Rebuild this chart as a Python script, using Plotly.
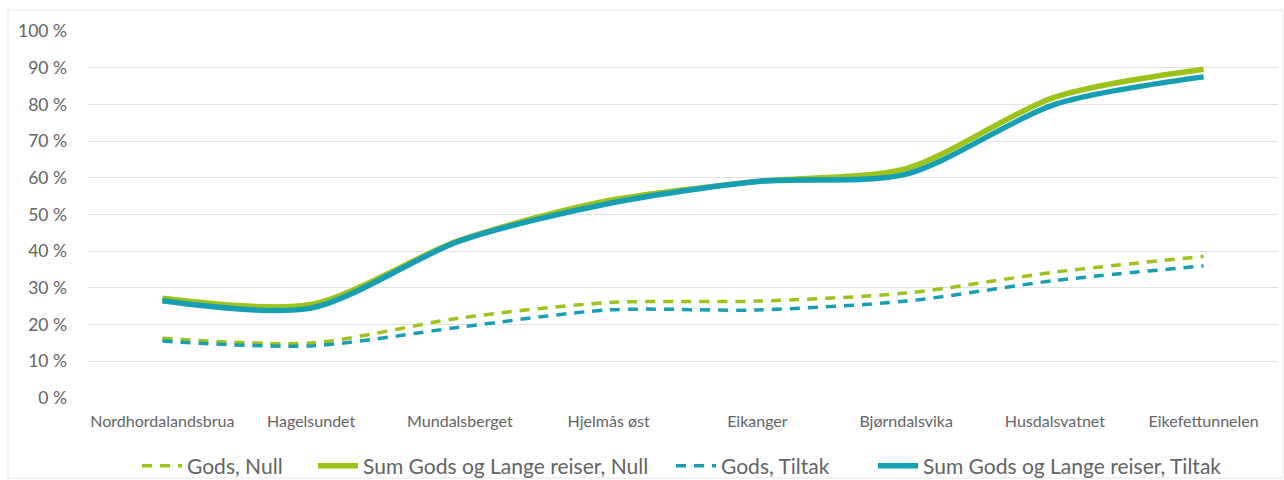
import plotly.graph_objects as go

categories = ["Nordhordalandsbrua", "Hagelsundet", "Mundalsberget", "Hjelmås øst",
              "Eikanger", "Bjørndalsvika", "Husdalsvatnet", "Eikefettunnelen"]
gods_null = [16.3, 15.0, 21.8, 26.0, 26.4, 28.6, 34.3, 38.6]
sum_null = [27.2, 25.5, 43.0, 53.8, 59.0, 62.5, 82.0, 89.6]
gods_tiltak = [15.5, 14.2, 19.3, 24.0, 24.0, 26.4, 32.0, 36.0]
sum_tiltak = [26.5, 24.5, 42.8, 53.0, 59.0, 61.0, 80.0, 87.5]
y_ticks = list(range(0, 101, 10))

GREEN = "#9cc31a"
BLUE = "#169fb2"
FONT = "Lato"
TXT = "#636363"

L, R, T, B = 88, 6, 31, 82
PW = 1284 - L - R

def px_to_paper(px):
    return (px - L) / PW

fig = go.Figure()
fig.add_trace(go.Scatter(x=categories, y=gods_null, name="Gods, Null", mode="lines", legend="legend",
                         line=dict(color=GREEN, width=3.5, dash="10px,8px", shape="spline", smoothing=0.8)))
fig.add_trace(go.Scatter(x=categories, y=sum_null, name="Sum Gods og Lange reiser, Null", mode="lines", legend="legend2",
                         line=dict(color=GREEN, width=5.5, shape="spline", smoothing=0.8)))
fig.add_trace(go.Scatter(x=categories, y=gods_tiltak, name="Gods, Tiltak", mode="lines", legend="legend3",
                         line=dict(color=BLUE, width=3.5, dash="10px,8px", shape="spline", smoothing=0.8)))
fig.add_trace(go.Scatter(x=categories, y=sum_tiltak, name="Sum Gods og Lange reiser, Tiltak", mode="lines", legend="legend4",
                         line=dict(color=BLUE, width=5.5, shape="spline", smoothing=0.8)))

leg_common = dict(orientation="h", xanchor="left", yref="container", y=1 - 466 / 480, yanchor="middle",
                  font=dict(family=FONT, size=21, color=TXT), itemwidth=40,
                  bgcolor="rgba(0,0,0,0)")

fig.update_layout(
    width=1284, height=480,
    margin=dict(l=L, r=R, t=T, b=B, autoexpand=False),
    paper_bgcolor="white", plot_bgcolor="white",
    font=dict(family=FONT, color=TXT),
    showlegend=True,
    legend=dict(x=px_to_paper(137), **leg_common),
    legend2=dict(x=px_to_paper(313), **leg_common),
    legend3=dict(x=px_to_paper(671), **leg_common),
    legend4=dict(x=px_to_paper(873), **leg_common),
    xaxis=dict(type="category", range=[-0.5, 7.5], showgrid=False, showline=False,
               ticks="", tickfont=dict(family=FONT, size=16, color=TXT), zeroline=False,
               ticklabelstandoff=12),
    yaxis=dict(range=[0, 100], tickvals=y_ticks, ticktext=[f"{v} %" for v in y_ticks],
               showgrid=True, gridcolor="#e3e3e3", gridwidth=1, zeroline=False,
               showline=False, tickfont=dict(family=FONT, size=17.5, color=TXT), ticks="",
               ticklabelstandoff=20),
    shapes=[dict(type="rect", xref="paper", yref="paper",
                 x0=px_to_paper(8), x1=px_to_paper(1283),
                 y0=-(478 - 398) / 367, y1=1 + (31 - 10) / 367,
                 line=dict(color="#e6e6e6", width=1), layer="below")],
)

fig.write_html("out.html")
